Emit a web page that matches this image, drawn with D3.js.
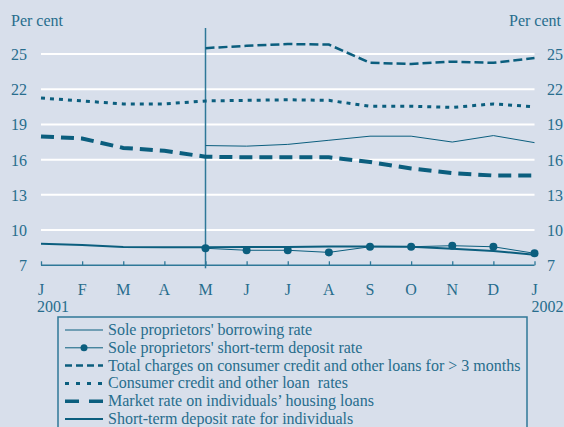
<!DOCTYPE html>
<html><head><meta charset="utf-8">
<script src="https://cdn.jsdelivr.net/npm/d3@7"></script>
<style>
html,body{margin:0;padding:0;background:#d8dfeb;}
svg{display:block;font-family:"Liberation Serif","Times New Roman",serif;}
svg text{white-space:pre;}
</style></head>
<body><svg id="c" width="564" height="427"></svg>
<script>
const months = ["J","F","M","A","M","J","J","A","S","O","N","D","J"];
const yTicks = [7,10,13,16,19,22,25];
const soleBorrow = [null,null,null,null,17.2,17.15,17.3,17.65,18.0,18.0,17.5,18.05,17.45];
const soleDeposit = [null,null,null,null,8.45,8.28,8.28,8.1,8.58,8.58,8.67,8.58,8.02];
const totalCharges = [null,null,null,null,25.5,25.7,25.85,25.8,24.25,24.15,24.35,24.25,24.65];
const consumerCredit = [21.25,21.0,20.75,20.75,21.0,21.05,21.1,21.05,20.55,20.55,20.45,20.75,20.5];
const housingLoans = [17.98,17.8,17.0,16.75,16.25,16.2,16.2,16.2,15.8,15.25,14.85,14.65,14.65];
const depositIndiv = [8.84,8.73,8.55,8.53,8.53,8.55,8.55,8.6,8.6,8.58,8.4,8.22,7.9];
const legendLabels = ["Sole proprietors' borrowing rate","Sole proprietors' short-term deposit rate","Total charges on consumer credit and other loans for > 3 months","Consumer credit and other loan  rates","Market rate on individuals\u2019 housing loans","Short-term deposit rate for individuals"];

const svg = d3.select("#c");
const lineC = "#0b5e7e", textC = "#276d8d", axisC = "#2f7898";
const x = d3.scaleLinear().domain([0,12]).range([41,534.5]);
const y = d3.scaleLinear().domain([7,25]).range([265.3,54]);

// gridlines
svg.append("g").selectAll("line").data(yTicks.filter(d=>d>7)).join("line")
  .attr("x1",x(0)).attr("x2",x(12)).attr("y1",d=>y(d)).attr("y2",d=>y(d))
  .attr("stroke","#ffffff").attr("stroke-width",2);

// left & right tick labels
svg.append("g").selectAll("text").data(yTicks).join("text")
  .attr("x",27).attr("y",d=>y(d)+6).attr("text-anchor","end")
  .attr("fill",textC).attr("font-size",16).text(d=>d);
svg.append("g").selectAll("text").data(yTicks).join("text")
  .attr("x",547).attr("y",d=>y(d)+6).attr("text-anchor","start")
  .attr("fill",textC).attr("font-size",16).text(d=>d);
svg.append("text").attr("x",11).attr("y",26).attr("fill",textC).attr("font-size",16).text("Per cent");
svg.append("text").attr("x",561).attr("y",26).attr("text-anchor","end").attr("fill",textC).attr("font-size",16).text("Per cent");

// x axis
const xAxis = d3.axisBottom(x).tickValues(d3.range(13)).tickSize(-4).tickFormat("");
const ga = svg.append("g").attr("transform",`translate(0,${y(7)})`).call(xAxis);
ga.select(".domain").attr("stroke",axisC).attr("stroke-width",1.5).attr("d",`M${x(0)},0H${x(12)}`);
ga.selectAll(".tick line").attr("stroke",axisC).attr("stroke-width",1.3);
svg.append("g").selectAll("text").data(months).join("text")
  .attr("x",(d,i)=>x(i)).attr("y",295).attr("text-anchor","middle")
  .attr("fill",textC).attr("font-size",16).text(d=>d);
svg.append("text").attr("x",x(0)-4).attr("y",312).attr("fill",textC).attr("font-size",16).text("2001");
svg.append("text").attr("x",x(12)-3).attr("y",312).attr("fill",textC).attr("font-size",16).text("2002");

// vertical separator
svg.append("line").attr("x1",x(4)).attr("x2",x(4)).attr("y1",28).attr("y2",y(7)+3)
  .attr("stroke",axisC).attr("stroke-width",1.5);

const series = [
  {data:soleBorrow, w:1, dash:null, ldash:null},
  {data:soleDeposit, w:1, dash:null, ldash:null, dots:true},
  {data:totalCharges, w:2.5, dash:"9,4", ldash:"7,4"},
  {data:consumerCredit, w:3, dash:"4,5", ldash:"4,7"},
  {data:housingLoans, w:4, dash:"13,7", ldash:"14,10"},
  {data:depositIndiv, w:2, dash:null, ldash:null}
];
const plotOrder = [0,2,3,4,5,1];
plotOrder.forEach(k=>{
  const s = series[k];
  const pts = s.data.map((v,i)=>v==null?null:[i,v]).filter(p=>p);
  const l = d3.line().x(p=>x(p[0])).y(p=>y(p[1]));
  svg.append("path").attr("d",l(pts)).attr("fill","none").attr("stroke",lineC)
    .attr("stroke-width",s.w).attr("stroke-dasharray",s.dash);
  if(s.dots){
    svg.append("g").selectAll("circle").data(pts).join("circle")
      .attr("cx",p=>x(p[0])).attr("cy",p=>y(p[1])).attr("r",4).attr("fill",lineC);
  }
});

// legend
svg.append("rect").attr("x",58).attr("y",317).attr("width",469).attr("height",130)
  .attr("fill","none").attr("stroke",axisC).attr("stroke-width",1.5);
const lg = svg.append("g");
series.forEach((s,i)=>{
  const cy = 330 + i*17.8;
  lg.append("line").attr("x1",65).attr("x2",103).attr("y1",cy).attr("y2",cy)
    .attr("stroke",lineC).attr("stroke-width",Math.min(s.w,3.5)).attr("stroke-dasharray",s.ldash);
  if(s.dots) lg.append("circle").attr("cx",84).attr("cy",cy).attr("r",3.5).attr("fill",lineC);
  lg.append("text").attr("x",108).attr("y",cy+5).attr("fill",textC).attr("font-size",16).text(legendLabels[i]);
});
</script></body></html>
